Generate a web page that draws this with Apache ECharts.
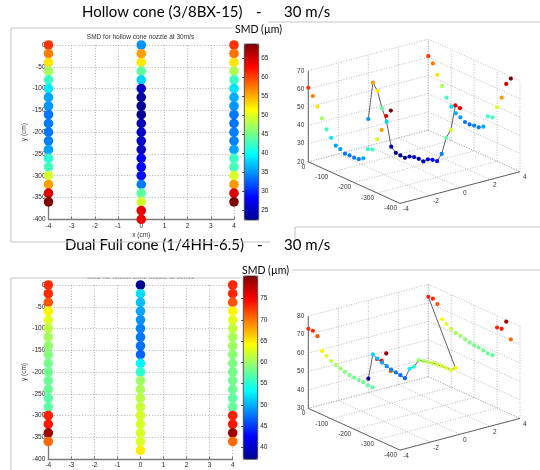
<!DOCTYPE html>
<html><head><meta charset="utf-8">
<script src="https://cdn.jsdelivr.net/npm/echarts@6/dist/echarts.min.js"></script>
<style>html,body{margin:0;padding:0;background:#fff}#c{width:540px;height:470px}</style>
</head><body><div id="c"></div>
<script>
// ---------------- data ----------------
const ySide = [0,-20,-40,-60,-80,-100,-120,-140,-160,-180,-200,-220,-240,-260,-280,-300,-320,-340,-360];
const yCenterHollow = [0,-20,-40,-60,-80,-100,-120,-140,-160,-180,-200,-220,-240,-260,-280,-300,-320,-340,-360,-380,-400];
const yCenterDual = [0,-20,-40,-60,-80,-100,-120,-140,-160,-180,-200,-220,-240,-260,-280,-300,-320,-340,-360,-380];

const hollowLeft   = [60.7,57.3,52.6,47.3,42.4,38.9,35.7,35.0,33.6,33.8,33.7,34.0,35.6,41.8,42.7,49.5,55.8,64.6,68.7];
const hollowCenter = [34.8,55.9,52.5,44.1,37.9,25.3,23.1,22.8,22.6,24.5,25.3,25.5,25.2,27.5,28.4,28.8,33.9,44.0,49.4,64.0,63.6];
const hollowRight  = [60.7,57.8,52.6,47.7,42.4,38.6,36.1,35.0,33.6,33.4,33.9,34.1,35.6,42.4,43.0,49.7,56.1,64.8,68.9];

const dualLeft   = [73.1,73.2,71.4,64.5,63.0,61.3,60.3,59.5,58.8,58.2,58.0,57.8,57.8,57.2,57.2,73.6,73.9,79.0,70.5];
const dualCenter = [37.5,51.8,50.6,49.6,48.8,48.1,47.7,47.3,46.8,53.0,55.3,60.0,60.5,61.2,61.8,62.2,62.4,62.5,62.6,64.8];
const dualRight  = [73.3,73.4,71.6,64.5,63.0,61.6,60.5,60.0,59.3,58.6,58.3,58.2,57.8,57.3,57.5,73.6,74.0,79.0,70.5];

const colorbarTicksHollow = [25,30,35,40,45,50,55,60,65];
const colorbarTicksDual   = [40,45,50,55,60,65,70,75];
const smdRangeHollow = [22.4, 68.8];
const smdRangeDual   = [37.2, 80.3];

const xTicks3d = [-4,-2,0,2,4];
const yTicks3d = [0,-100,-200,-300,-400];
const zTicksHollow = [20,30,40,50,60,70];
const zTicksDual   = [30,40,50,60,70,80];

// ---------------- helpers ----------------
function column(x, ys, vals){ return vals.map((v,i)=>[x, ys[i], v]); }
const hollowPts = column(-4,ySide,hollowLeft).concat(column(0,yCenterHollow,hollowCenter), column(4,ySide,hollowRight));
const dualPts   = column(-4,ySide,dualLeft).concat(column(0,yCenterDual,dualCenter), column(4,ySide,dualRight));
const hollowLine = column(0,yCenterHollow,hollowCenter);
const dualLine   = column(0,yCenterDual,dualCenter).concat([[4, ySide[0], dualRight[0]]]);

const jet = ['#00008f','#0000ff','#0080ff','#00ffff','#80ff80','#ffff00','#ff8000','#ff0000','#800000'];
const FONT = 'Liberation Sans';

// 3D box layout (orthographic projection)
const boxHollow = {ox:308.3, oy:161.8, ex:[120,-31.7], ey:[91.7,41.6], ez:91.0, x:[-4,4], y:[0,-400], z:[20,70]};
const boxDual   = {ox:308.3, oy:408.4, ex:[120,-31.7], ey:[91.7,41.7], ez:92.3, x:[-4,4], y:[0,-400], z:[30,80]};
function proj(b, x, y, z){
  const fx=(x-b.x[0])/(b.x[1]-b.x[0]), fy=(y-b.y[0])/(b.y[1]-b.y[0]), fz=(z-b.z[0])/(b.z[1]-b.z[0]);
  return [b.ox+fx*b.ex[0]+fy*b.ey[0], b.oy+fx*b.ex[1]+fy*b.ey[1]-fz*b.ez];
}
function gridSegments(b, zTicks){
  const segs=[]; const x0=b.x[0], x1=b.x[1], y0=b.y[0], y1=b.y[1], z0=b.z[0], z1=b.z[1];
  xTicks3d.forEach(x=>{ segs.push([x,y0,z0,x,y1,z0,0]); segs.push([x,y0,z0,x,y0,z1,0]); });
  yTicks3d.forEach(y=>{ segs.push([x0,y,z0,x1,y,z0,0]); segs.push([x1,y,z0,x1,y,z1,0]); });
  zTicks.forEach(z=>{ segs.push([x0,y0,z,x1,y0,z,0]); segs.push([x1,y0,z,x1,y1,z,0]); });
  segs.push([x0,y0,z0,x0,y0,z1,1]); segs.push([x0,y0,z0,x0,y1,z0,1]); segs.push([x0,y1,z0,x1,y1,z0,1]);
  return segs;
}
function gridSeries(b, zTicks){
  const segs = gridSegments(b, zTicks);
  return {type:'custom', coordinateSystem:'none', silent:true, z:1, data:segs.map((s,i)=>[i]),
    renderItem:(params)=>{ const s=segs[params.dataIndex]; const p=proj(b,s[0],s[1],s[2]), q=proj(b,s[3],s[4],s[5]);
      return {type:'line', shape:{x1:p[0],y1:p[1],x2:q[0],y2:q[1]},
        style: s[6] ? {stroke:'#555',lineWidth:0.9} : {stroke:'#a8a8a8',lineWidth:0.8,lineDash:[1,1.6]}}; }};
}
function labelSeries(b, zTicks){
  const labs=[];
  zTicks.forEach(z=>{ const p=proj(b,b.x[0],b.y[0],z); labs.push({x:p[0]-4,y:p[1],t:String(z),a:'right'}); });
  yTicks3d.forEach(y=>{ const p=proj(b,b.x[0],y,b.z[0]); labs.push({x:p[0]-3,y:p[1]+5,t:String(y),a:'right'}); });
  xTicks3d.forEach(x=>{ const p=proj(b,x,b.y[1],b.z[0]); labs.push({x:p[0]+3,y:p[1]+6,t:String(x),a:'left'}); });
  return {type:'custom', coordinateSystem:'none', silent:true, z:2, data:labs.map((l,i)=>[i]),
    renderItem:(params)=>{ const l=labs[params.dataIndex];
      return {type:'text', style:{text:l.t, x:l.x, y:l.y, font:'6.5px '+FONT, fill:'#333', align:l.a, textAlign:l.a, verticalAlign:'middle', textVerticalAlign:'middle'}}; }};
}
function lineSeries(b, pts){
  return {type:'custom', coordinateSystem:'none', silent:true, z:3, data:pts,
    renderItem:(params, api)=>{ const i=params.dataIndex; if(i===0) return null;
      const a=pts[i-1]; const p=proj(b,a[0],a[1],a[2]); const q=proj(b,api.value(0),api.value(1),api.value(2));
      return {type:'line', shape:{x1:p[0],y1:p[1],x2:q[0],y2:q[1]}, style:{stroke:'#606060',lineWidth:1}}; }};
}
function pointSeries(b, pts){
  return {type:'custom', coordinateSystem:'none', silent:true, z:4, data:pts,
    renderItem:(params, api)=>{ const p=proj(b,api.value(0),api.value(1),api.value(2));
      return {type:'circle', shape:{cx:p[0],cy:p[1],r:2.1}, style:{fill:api.visual('color')}}; }};
}
function xAxis2d(gi, name){
  return {gridIndex:gi, type:'value', min:-4, max:4, interval:1, name:name, nameLocation:'middle', nameGap:12,
    nameTextStyle:{fontSize:6.5, color:'#333', fontFamily:FONT},
    axisLine:{onZero:false, lineStyle:{color:'#7a7a7a', width:1.3}},
    axisTick:{inside:true, length:2.5, lineStyle:{color:'#7a7a7a'}},
    axisLabel:{fontSize:6.5, color:'#222', margin:3, fontFamily:FONT},
    splitLine:{show:true, lineStyle:{color:'#a0a0a0', width:0.8, type:[1,1.8]}}};
}
function yAxis2d(gi){
  return {gridIndex:gi, type:'value', min:-400, max:0, interval:50, name:'y (cm)', nameLocation:'middle', nameGap:21, nameRotate:90,
    nameTextStyle:{fontSize:6.5, color:'#333', fontFamily:FONT},
    axisLine:{onZero:false, lineStyle:{color:'#7a7a7a', width:1.3}},
    axisTick:{inside:true, length:2.5, lineStyle:{color:'#7a7a7a'}},
    axisLabel:{fontSize:6.5, color:'#222', margin:3, fontFamily:FONT},
    splitLine:{show:true, lineStyle:{color:'#a0a0a0', width:0.8, type:[1,1.8]}}};
}
function cbAxis(gi, range, ticks){
  return {gridIndex:gi, type:'value', position:'right', min:range[0], max:range[1],
    axisLine:{show:false}, splitLine:{show:false},
    axisTick:{show:true, inside:true, length:2, customValues:ticks, lineStyle:{color:'#333'}},
    axisLabel:{customValues:ticks, fontSize:6.5, color:'#222', margin:2.5, fontFamily:FONT}};
}
function hiddenX(gi){ return {gridIndex:gi, type:'value', show:false, min:0, max:1}; }
function scatter2d(gi, pts){
  return {type:'scatter', xAxisIndex:gi, yAxisIndex:gi, data:pts, symbolSize:9.6, silent:true, z:3,
    itemStyle:{opacity:1}};
}
const frame = '#c4c4c4';
function txt(x,y,s,font,fill,align){ return {type:'text', x:0, y:0, z:20, silent:true,
  style:{text:s, x:x, y:y, font:font, fill:fill||'#000', align:align||'left', textAlign:align||'left', verticalAlign:'middle', textVerticalAlign:'middle'}}; }
function ln(x1,y1,x2,y2){ return {type:'line', z:30, silent:true, shape:{x1,y1,x2,y2}, style:{stroke:frame, lineWidth:1}}; }

const option = {
  animation:false,
  backgroundColor:'#fff',
  textStyle:{fontFamily:FONT},
  grid:[
    {left:48.5, top:45, width:185.5, height:174.3},
    {left:244.3, top:44, width:14.4, height:176, show:true, z:6, backgroundColor:'transparent', borderColor:'#333', borderWidth:0.8},
    {left:48.3, top:285, width:184.4, height:174},
    {left:243.3, top:276, width:14.4, height:183.3, show:true, z:6, backgroundColor:'transparent', borderColor:'#333', borderWidth:0.8}
  ],
  xAxis:[ xAxis2d(0,'x (cm)'), hiddenX(1), xAxis2d(2,''), hiddenX(3) ],
  yAxis:[ yAxis2d(0), cbAxis(1, smdRangeHollow, colorbarTicksHollow), yAxis2d(2), cbAxis(3, smdRangeDual, colorbarTicksDual) ],
  visualMap:[
    {type:'continuous', seriesIndex:[0,4], dimension:2, min:smdRangeHollow[0], max:smdRangeHollow[1],
     left:244.3, top:44, itemWidth:14.4, itemHeight:176, padding:0, calculable:false, hoverLink:false, inRange:{color:jet}},
    {type:'continuous', seriesIndex:[5,9], dimension:2, min:smdRangeDual[0], max:smdRangeDual[1],
     left:243.3, top:276, itemWidth:14.4, itemHeight:183.3, padding:0, calculable:false, hoverLink:false, inRange:{color:jet}}
  ],
  series:[
    scatter2d(0, hollowPts),
    gridSeries(boxHollow, zTicksHollow),
    labelSeries(boxHollow, zTicksHollow),
    lineSeries(boxHollow, hollowLine),
    pointSeries(boxHollow, hollowPts),
    scatter2d(2, dualPts),
    gridSeries(boxDual, zTicksDual),
    labelSeries(boxDual, zTicksDual),
    lineSeries(boxDual, dualLine),
    pointSeries(boxDual, dualPts)
  ],
  graphic:[
    // slide frames
    ln(11,28,234,28), ln(11,28,11,242), ln(11,242,270,242),
    ln(268,22,540,22), ln(295,227,540,227), ln(295,227,295,240),
    ln(292,270,540,270),
    {type:'rect', z:25, silent:true, shape:{x:60,y:266,width:165,height:11.5}, style:{fill:'#fff'}},
    ln(11,278,240,278), ln(11,278,11,470),
    // titles
    txt(82,12,'Hollow cone (3/8BX-15)','15px Lato','#000'),
    txt(256,12,'-','15px Lato','#000'),
    txt(284,12,'30 m/s','15px Lato','#000'),
    txt(65,245,'Dual Full cone (1/4HH-6.5)','15px Lato','#000'),
    txt(257,245,'-','15px Lato','#000'),
    txt(284,245,'30 m/s','15px Lato','#000'),
    txt(235,30,'SMD (\u00b5m)','10.5px Lato','#000'),
    txt(242,271,'SMD (\u00b5m)','10.5px Lato','#000'),
    txt(140.5,37.5,'SMD for hollow cone nozzle at 30m/s','6.5px '+FONT,'#333','center'),
    Object.assign(txt(140.5,277,'SMD for hollow cone nozzle at 30m/s','6.5px '+FONT,'#555','center'),{z:20})
  ]
};
const chart = echarts.init(document.getElementById('c'), null, {renderer:'canvas'});
chart.setOption(option);
</script></body></html>
